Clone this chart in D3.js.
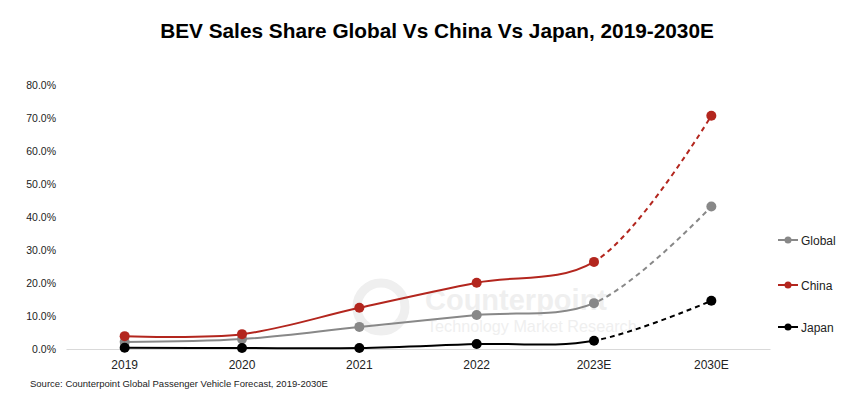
<!DOCTYPE html>
<html>
<head>
<meta charset="utf-8">
<script src="https://cdn.jsdelivr.net/npm/d3@7"></script>
<style>
  body { margin: 0; background: #fff; }
  text { font-family: "Liberation Sans", Arial, sans-serif; }
</style>
</head>
<body>
<div id="chart"></div>
<script>
const width = 866;
const height = 412;

// data
const years = ["2019", "2020", "2021", "2022", "2023E", "2030E"];
const globalShare = [2.1, 3.0, 6.7, 10.3, 13.9, 43.2];
const chinaShare = [3.9, 4.5, 12.5, 20.1, 26.4, 70.7];
const japanShare = [0.4, 0.3, 0.3, 1.5, 2.5, 14.6];
const yTicks = [0, 10, 20, 30, 40, 50, 60, 70, 80];

const series = [
    {name: "Global", values: globalShare, color: "#888888"},
    {name: "China", values: chinaShare, color: "#b3261e"},
    {name: "Japan", values: japanShare, color: "#000000"}
];

const margin = {top: 85, right: 96, bottom: 63, left: 66};

const svg = d3.select("#chart")
    .append("svg")
    .attr("width", width)
    .attr("height", height);

const x = d3.scaleBand()
    .domain(years)
    .range([margin.left, width - margin.right]);

const y = d3.scaleLinear()
    .domain([0, 80])
    .range([height - margin.bottom, margin.top]);

// title
svg.append("text")
    .attr("x", 437)
    .attr("y", 38)
    .attr("text-anchor", "middle")
    .attr("font-size", 20.8)
    .attr("font-weight", "bold")
    .attr("fill", "#000")
    .text("BEV Sales Share Global Vs China Vs Japan, 2019-2030E");

// watermark
const wm = svg.append("g").attr("fill", "#efefef");
wm.append("circle")
    .attr("cx", 381).attr("cy", 307).attr("r", 24)
    .attr("fill", "none").attr("stroke", "#efefef").attr("stroke-width", 9);
wm.append("text")
    .attr("x", 425).attr("y", 310)
    .attr("font-size", 29)
    .attr("font-weight", "bold")
    .attr("font-family", "'Open Sans', sans-serif")
    .text("Counterpoint");
wm.append("text")
    .attr("x", 427).attr("y", 332)
    .attr("font-size", 16.2)
    .attr("font-family", "'Open Sans', sans-serif")
    .text("Technology Market Research");

// y axis labels
svg.append("g")
    .selectAll("text")
    .data(yTicks)
    .join("text")
    .attr("x", 56)
    .attr("y", d => y(d) + 4)
    .attr("text-anchor", "end")
    .attr("font-size", 10.5)
    .attr("fill", "#222")
    .text(d => d.toFixed(1) + "%");

// x axis
const xAxis = svg.append("g")
    .attr("transform", `translate(0,${y(0)})`)
    .call(d3.axisBottom(x).tickSize(0).tickPadding(11));
xAxis.select(".domain").attr("stroke", "#d9d9d9");
xAxis.selectAll("text")
    .attr("font-size", 12)
    .attr("font-family", "'Liberation Sans', Arial, sans-serif")
    .attr("fill", "#222");

const cx = d => x(d) + x.bandwidth() / 2;

// clip solid part up to 2023E, dashed after
const splitX = cx("2023E");
const defs = svg.append("defs");
defs.append("clipPath").attr("id", "clipSolid")
    .append("rect").attr("x", 0).attr("y", 0).attr("width", splitX).attr("height", height);
defs.append("clipPath").attr("id", "clipDash")
    .append("rect").attr("x", splitX).attr("y", 0).attr("width", width - splitX).attr("height", height);

const line = d3.line()
    .x((d, i) => cx(years[i]))
    .y(d => y(d))
    .curve(d3.curveCatmullRom.alpha(0.5));

series.forEach(s => {
    const g = svg.append("g");
    g.append("path")
        .attr("d", line(s.values))
        .attr("fill", "none")
        .attr("stroke", s.color)
        .attr("stroke-width", 2)
        .attr("clip-path", "url(#clipSolid)");
    g.append("path")
        .attr("d", line(s.values))
        .attr("fill", "none")
        .attr("stroke", s.color)
        .attr("stroke-width", 2)
        .attr("stroke-dasharray", "5,4")
        .attr("clip-path", "url(#clipDash)");
    g.selectAll("circle")
        .data(s.values)
        .join("circle")
        .attr("cx", (d, i) => cx(years[i]))
        .attr("cy", d => y(d))
        .attr("r", 5)
        .attr("fill", s.color);
});

// legend
const legendY = [240, 285, 327];
const legend = svg.append("g")
    .selectAll("g")
    .data(series)
    .join("g")
    .attr("transform", (d, i) => `translate(778,${legendY[i]})`);
legend.append("line")
    .attr("x1", 0).attr("x2", 20)
    .attr("stroke", d => d.color)
    .attr("stroke-width", 2);
legend.append("circle")
    .attr("cx", 10).attr("r", 3.5)
    .attr("fill", d => d.color);
legend.append("text")
    .attr("x", 23)
    .attr("y", 4.5)
    .attr("font-size", 12)
    .attr("fill", "#222")
    .text(d => d.name);

// source
svg.append("text")
    .attr("x", 30)
    .attr("y", 387)
    .attr("font-size", 9.5)
    .attr("fill", "#222")
    .text("Source: Counterpoint Global Passenger Vehicle Forecast, 2019-2030E");
</script>
</body>
</html>
